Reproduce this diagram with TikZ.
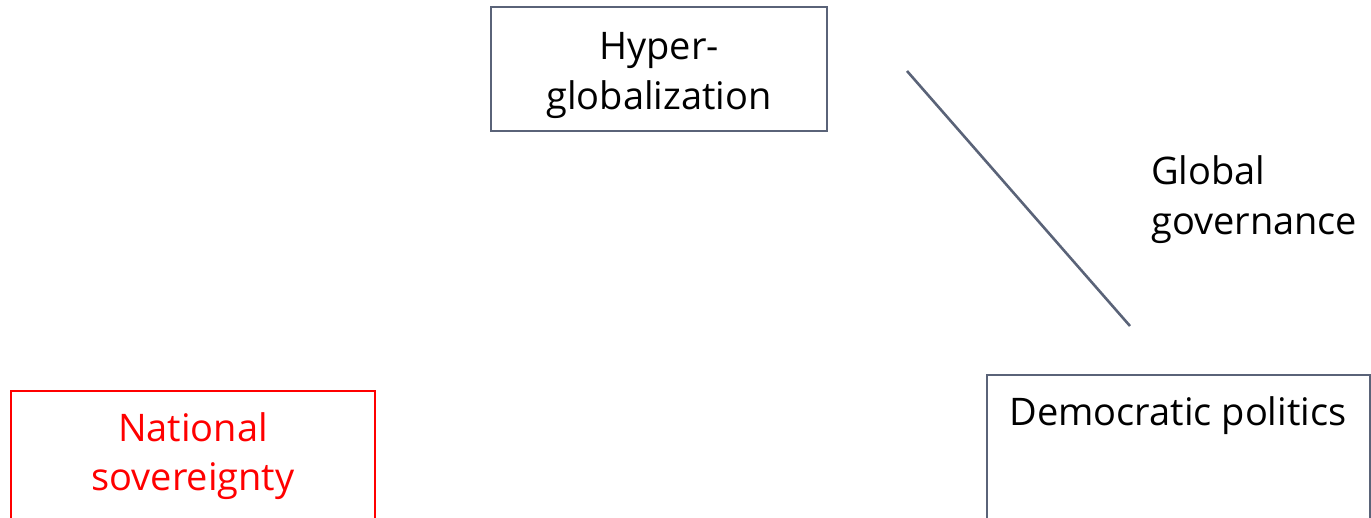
\documentclass[tikz,border=0pt]{standalone}
\usepackage{fontspec}
\setmainfont{Open Sans}
\definecolor{slate}{HTML}{5A6378}
\definecolor{pred}{HTML}{FF0000}
\begin{document}
\begin{tikzpicture}[x=1pt,y=1pt,
  box/.style={draw=slate,line width=2pt,rectangle,inner sep=0pt},
  lbl/.style={inner sep=0pt,anchor=base,font=\fontsize{38}{50}\selectfont}]
\useasboundingbox (0,0) rectangle (1371,517);
% Hyper-globalization
\node[box,minimum width=336pt,minimum height=124pt] (hg) at (659,448) {};
\node[lbl] (hg1) at (659,457) {Hyper-};
\node[lbl] (hg2) at (659,407) {globalization};
% National sovereignty
\node[box,draw=pred,minimum width=364pt,minimum height=146pt] (ns) at (193,53) {};
\node[lbl,text=pred] (ns1) at (193,75) {National};
\node[lbl,text=pred] (ns2) at (193,27) {sovereignty};
% Democratic politics
\node[box,minimum width=383pt,minimum height=162pt] (dp) at (1178.5,61) {};
\node[lbl] (dp1) at (1178,92) {Democratic politics};
% Global governance
\node[lbl,anchor=base west] (gg1) at (1151,332) {Global};
\node[lbl,anchor=base west] (gg2) at (1151,282) {governance};
\coordinate (la) at (907,446);
\coordinate (lb) at (1130,191);
\draw[slate,line width=2.6pt] (la) -- (lb);
\end{tikzpicture}
\end{document}
